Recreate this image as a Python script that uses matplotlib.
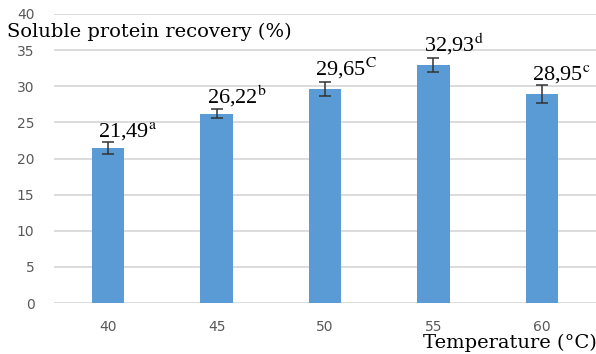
import matplotlib.pyplot as plt

plt.rcParams['mathtext.fontset'] = 'stix'

temperatures = ['40', '45', '50', '55', '60']
recovery = [21.49, 26.22, 29.65, 32.93, 28.95]
errors = [0.8, 0.6, 1.0, 1.0, 1.2]
letters = ['a', 'b', 'C', 'd', 'c']

fig = plt.figure(figsize=(5.96, 3.54), dpi=100)
ax = fig.add_axes([0.0906, 0.144, 0.9094, 0.8165])

x = list(range(len(temperatures)))
ax.bar(x, recovery, width=0.3, color='#5b9bd5', zorder=2)
ax.errorbar(x, recovery, yerr=errors, fmt='none', ecolor='#333333',
            elinewidth=1.1, capsize=4.5, capthick=1.1, zorder=3)

# value labels with significance letters
for i, (v, e, l) in enumerate(zip(recovery, errors, letters)):
    txt = f'{v:.2f}'.replace('.', ',') + r'$^{\mathrm{' + l + '}}$'
    ax.text(i - 0.09, v + e + 0.05, txt, ha='left', va='bottom',
            fontsize=16, family='Liberation Serif', zorder=4)

ax.set_xlim(-0.5, 4.5)
ax.set_ylim(0, 40)
ax.set_yticks(range(0, 41, 5))
ax.set_xticks(x)
ax.set_xticklabels(temperatures)
ax.yaxis.grid(True, color='#d9d9d9', linewidth=1.3, zorder=0)
ax.set_axisbelow(True)
for s in ax.spines.values():
    s.set_visible(False)
ax.tick_params(length=0, labelsize=10, labelcolor='#595959', pad=14)
ax.tick_params(axis='x', pad=12)

fig.text(0.012, 0.91, 'Soluble protein recovery (%)', fontsize=14,
         family='DejaVu Serif', va='center', ha='left')
fig.text(0.709, 0.007, 'Temperature (°C)', fontsize=14,
         family='DejaVu Serif', va='bottom', ha='left')

fig.savefig('out.png', dpi=100)
